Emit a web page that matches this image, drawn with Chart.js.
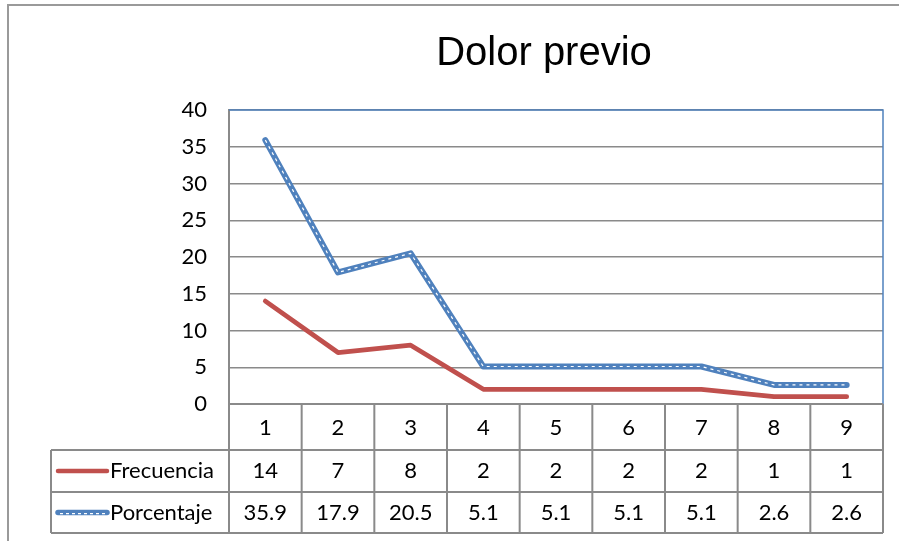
<!DOCTYPE html>
<html>
<head>
<meta charset="utf-8">
<script src="https://cdn.jsdelivr.net/npm/chart.js@4.4.1/dist/chart.umd.min.js"></script>
<style>
html,body{margin:0;padding:0;background:#fff;}
#wrap{position:relative;width:899px;height:541px;}
</style>
</head>
<body>
<div id="wrap"><canvas id="c" width="899" height="541"></canvas></div>
<script>
const chartTitle = "Dolor previo";
const categories = ["1","2","3","4","5","6","7","8","9"];
const seriesNames = ["Frecuencia","Porcentaje"];
const frecuencia = [14,7,8,2,2,2,2,1,1];
const porcentaje = [35.9,17.9,20.5,5.1,5.1,5.1,5.1,2.6,2.6];
const frecuenciaLabels = ["14","7","8","2","2","2","2","1","1"];
const porcentajeLabels = ["35.9","17.9","20.5","5.1","5.1","5.1","5.1","2.6","2.6"];
const yTicks = [0,5,10,15,20,25,30,35,40];

const RED = "#C0504D", BLUE = "#4F81BD", GRID = "#8a8a8a";
const TXT_FONT = "22px Lato, 'Open Sans', sans-serif";

const decor = {
  id: "decor",
  beforeDraw(chart) {
    const ctx = chart.ctx;
    ctx.save();
    ctx.fillStyle = "#fff";
    ctx.fillRect(0,0,chart.width,chart.height);
    ctx.strokeStyle = "#9a9a9a";
    ctx.lineWidth = 2;
    ctx.beginPath();
    ctx.moveTo(8, chart.height);
    ctx.lineTo(8, 5);
    ctx.lineTo(chart.width, 5);
    ctx.stroke();
    ctx.restore();
  },
  afterDatasetsDraw(chart) {
    const ctx = chart.ctx;
    const ca = chart.chartArea;
    const xs = chart.scales.x;
    const n = categories.length;
    const half = (xs.getPixelForValue(1) - xs.getPixelForValue(0)) / 2;
    const rows = [ca.bottom, 450, 492, 533];
    const legendLeft = 51;
    ctx.save();
    ctx.lineWidth = 1.5;
    ctx.strokeStyle = BLUE;
    ctx.beginPath();
    ctx.moveTo(ca.left, ca.top);
    ctx.lineTo(ca.right, ca.top);
    ctx.lineTo(ca.right, ca.bottom);
    ctx.stroke();
    ctx.strokeStyle = GRID;
    ctx.lineWidth = 2;
    ctx.beginPath();
    ctx.moveTo(ca.left, rows[0]); ctx.lineTo(ca.right, rows[0]);
    for (let r = 1; r < rows.length; r++) {
      ctx.moveTo(legendLeft, rows[r]); ctx.lineTo(ca.right, rows[r]);
    }
    for (let i = 0; i <= n; i++) {
      const x = i < n ? xs.getPixelForValue(i) - half : xs.getPixelForValue(n-1) + half;
      ctx.moveTo(x, rows[0]); ctx.lineTo(x, rows[3]);
    }
    ctx.moveTo(legendLeft, rows[1]); ctx.lineTo(legendLeft, rows[3]);
    ctx.stroke();
    ctx.fillStyle = "#000";
    ctx.font = TXT_FONT;
    ctx.textAlign = "center";
    ctx.textBaseline = "middle";
    const cy = [(rows[0]+rows[1])/2+1, (rows[1]+rows[2])/2, (rows[2]+rows[3])/2];
    categories.forEach((c,i) => {
      const x = xs.getPixelForValue(i);
      ctx.fillText(c, x, cy[0]);
      ctx.fillText(frecuenciaLabels[i], x, cy[1]);
      ctx.fillText(porcentajeLabels[i], x, cy[2]);
    });
    ctx.lineCap = "round";
    ctx.strokeStyle = RED; ctx.lineWidth = 4.5;
    ctx.beginPath(); ctx.moveTo(58, cy[1]); ctx.lineTo(107, cy[1]); ctx.stroke();
    ctx.strokeStyle = BLUE; ctx.lineWidth = 5.5;
    ctx.beginPath(); ctx.moveTo(58, cy[2]); ctx.lineTo(107, cy[2]); ctx.stroke();
    ctx.strokeStyle = "#fff"; ctx.lineWidth = 1.2; ctx.setLineDash([3,3]); ctx.lineCap="butt";
    ctx.beginPath(); ctx.moveTo(60, cy[2]+1.2); ctx.lineTo(106, cy[2]+1.2); ctx.stroke();
    ctx.setLineDash([]);
    ctx.textAlign = "left";
    ctx.fillText(seriesNames[0], 110, cy[1]);
    ctx.fillText(seriesNames[1], 110, cy[2]);
    ctx.font = "40px 'Liberation Sans Narrow', 'Liberation Sans', Arial, sans-serif";
    ctx.textAlign = "center";
    ctx.textBaseline = "alphabetic";
    ctx.fillText(chartTitle, 544, 65);
    ctx.restore();
  }
};

new Chart(document.getElementById("c"), {
  type: "line",
  data: {
    labels: categories,
    datasets: [
      { label: seriesNames[0], data: frecuencia, borderColor: RED, borderWidth: 4.8,
        pointRadius: 0, tension: 0, borderCapStyle: "round", borderJoinStyle: "round", order: 3 },
      { label: seriesNames[1], data: porcentaje, borderColor: BLUE, borderWidth: 6,
        pointRadius: 0, tension: 0, borderCapStyle: "round", borderJoinStyle: "round", order: 2 },
      { label: "_overlay", data: porcentaje, borderColor: "#ffffff", borderWidth: 1.2,
        borderDash: [3,4], pointRadius: 0, tension: 0, order: 1 }
    ]
  },
  options: {
    responsive: false,
    animation: false,
    devicePixelRatio: 1,
    layout: { padding: { left: 0, right: 16, top: 110, bottom: 137 } },
    plugins: { legend: { display: false }, tooltip: { enabled: false }, title: { display: false } },
    scales: {
      x: { display: false, offset: true },
      y: {
        min: 0, max: 40,
        afterFit(scale) { scale.width = 229; },
        afterBuildTicks(scale) { scale.ticks = yTicks.map(v => ({ value: v })); },
        ticks: { color: "#000", font: { family: "Lato, 'Open Sans', sans-serif", size: 22 }, padding: 22 },
        grid: { color: GRID, lineWidth: 1.5, drawTicks: false },
        border: { color: GRID, width: 2 }
      }
    }
  },
  plugins: [decor]
});
</script>
</body>
</html>
